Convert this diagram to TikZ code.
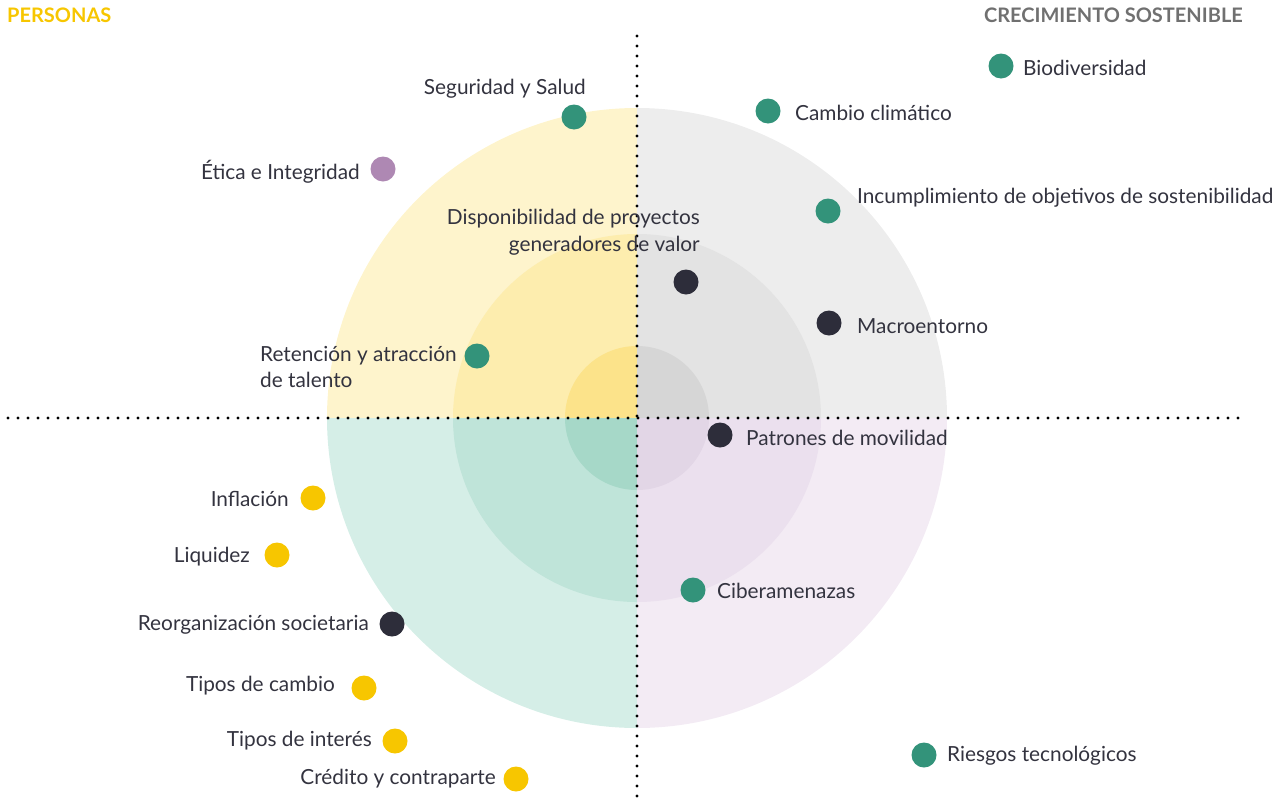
\documentclass[tikz,border=0pt]{standalone}
\usepackage{fontspec}
\setmainfont{Lato}
\definecolor{txt}{HTML}{33333F}
\definecolor{teal}{HTML}{33937A}
\definecolor{dark}{HTML}{2D2D3A}
\definecolor{yel}{HTML}{F7C600}
\definecolor{purp}{HTML}{AE88B3}
\definecolor{grayt}{HTML}{707070}
\definecolor{yA}{HTML}{FEF4CC}
\definecolor{yB}{HTML}{FDEDAE}
\definecolor{yC}{HTML}{FCE38A}
\definecolor{gA}{HTML}{EDEDED}
\definecolor{gB}{HTML}{E3E3E3}
\definecolor{gC}{HTML}{D6D6D6}
\definecolor{tA}{HTML}{D5EEE7}
\definecolor{tB}{HTML}{BFE4D9}
\definecolor{tC}{HTML}{A6D8C8}
\definecolor{pA}{HTML}{F3EBF4}
\definecolor{pB}{HTML}{EBE0EE}
\definecolor{pC}{HTML}{E2D6E6}
\tikzset{
  dot/.style={circle,inner sep=0pt,minimum size=25pt},
  lbl/.style={text=txt,font=\fontsize{20.8}{26.5}\selectfont,inner sep=0pt,align=left},
  lblr/.style={lbl,align=right},
  dotline/.style={line width=3.3pt,line cap=round,dash pattern=on 0pt off 10pt,black},
  head/.style={font=\fontsize{20}{22}\selectfont\bfseries,inner sep=0pt}
}
\begin{document}
\begin{tikzpicture}[x=1pt,y=-1pt]
\useasboundingbox (0,0) rectangle (1274,809);
\coordinate (c) at (637,418);
% quadrants (y axis points down: angle 270 is up on the page)
\foreach \r/\cy/\cg/\ct/\cp in {310/yA/gA/tA/pA,184/yB/gB/tB/pB,72/yC/gC/tC/pC}{
  \fill[\cy] (c) -- ++(-\r,0) arc[start angle=180,end angle=270,radius=\r] -- cycle;
  \fill[\cg] (c) -- ++(0,-\r) arc[start angle=270,end angle=360,radius=\r] -- cycle;
  \fill[\ct] (c) -- ++(-\r,0) arc[start angle=180,end angle=90,radius=\r] -- cycle;
  \fill[\cp] (c) -- ++(\r,0) arc[start angle=0,end angle=90,radius=\r] -- cycle;
}
% dotted axes
\coordinate (vt) at (637,36);
\coordinate (vb) at (637,806);
\coordinate (hl) at (8,418);
\coordinate (hr) at (1243,418);
\draw[dotline] (vt) -- (vb);
\draw[dotline] (hl) -- (hr);
% headings
\node[head,text=yel,anchor=west] (h1) at (7,15) {PERSONAS};
\node[head,text=grayt,anchor=east] (h2) at (1243,15) {CRECIMIENTO SOSTENIBLE};
% items
\node[dot,fill=teal] (d1) at (1001,66) {};
\node[lbl,anchor=west] (l1) at (1023,68) {Biodiversidad};
\node[dot,fill=teal] (d2) at (768,111) {};
\node[lbl,anchor=west] (l2) at (795,113) {Cambio climático};
\node[dot,fill=teal] (d3) at (574,117) {};
\node[lblr,anchor=east] (l3) at (586,89) {Seguridad y Salud};
\node[dot,fill=purp] (d4) at (383,169) {};
\node[lblr,anchor=east] (l4) at (360,172) {Ética e Integridad};
\node[dot,fill=teal] (d5) at (828,211) {};
\node[lbl,anchor=west] (l5) at (857,198) {Incumplimiento de objetivos de sostenibilidad};
\node[lblr,anchor=east] (l6) at (700,232) {Disponibilidad de proyectos\\generadores de valor};
\node[dot,fill=dark] (d6) at (686,282) {};
\node[dot,fill=dark] (d7) at (829,323) {};
\node[lbl,anchor=west] (l7) at (857,326) {Macroentorno};
\node[dot,fill=teal] (d8) at (477,356) {};
\node[lbl,anchor=west] (l8) at (260,367) {Retención y atracción\\de talento};
\node[dot,fill=dark] (d9) at (720,435) {};
\node[lbl,anchor=west] (l9) at (746,438) {Patrones de movilidad};
\node[dot,fill=yel] (d10) at (313,498) {};
\node[lblr,anchor=east] (l10) at (289,499) {Inflación};
\node[dot,fill=yel] (d11) at (277,555) {};
\node[lblr,anchor=east] (l11) at (250,557) {Liquidez};
\node[dot,fill=teal] (d12) at (693,590) {};
\node[lbl,anchor=west] (l12) at (717,591) {Ciberamenazas};
\node[dot,fill=dark] (d13) at (392,624) {};
\node[lblr,anchor=east] (l13) at (369,625) {Reorganización societaria};
\node[dot,fill=yel] (d14) at (364,688) {};
\node[lblr,anchor=east] (l14) at (335,686) {Tipos de cambio};
\node[dot,fill=yel] (d15) at (395,741) {};
\node[lblr,anchor=east] (l15) at (372,741) {Tipos de interés};
\node[dot,fill=yel] (d16) at (516,779) {};
\node[lblr,anchor=east] (l16) at (496,779) {Crédito y contraparte};
\node[dot,fill=teal] (d17) at (924,755) {};
\node[lbl,anchor=west] (l17) at (947,756) {Riesgos tecnológicos};
\end{tikzpicture}
\end{document}
